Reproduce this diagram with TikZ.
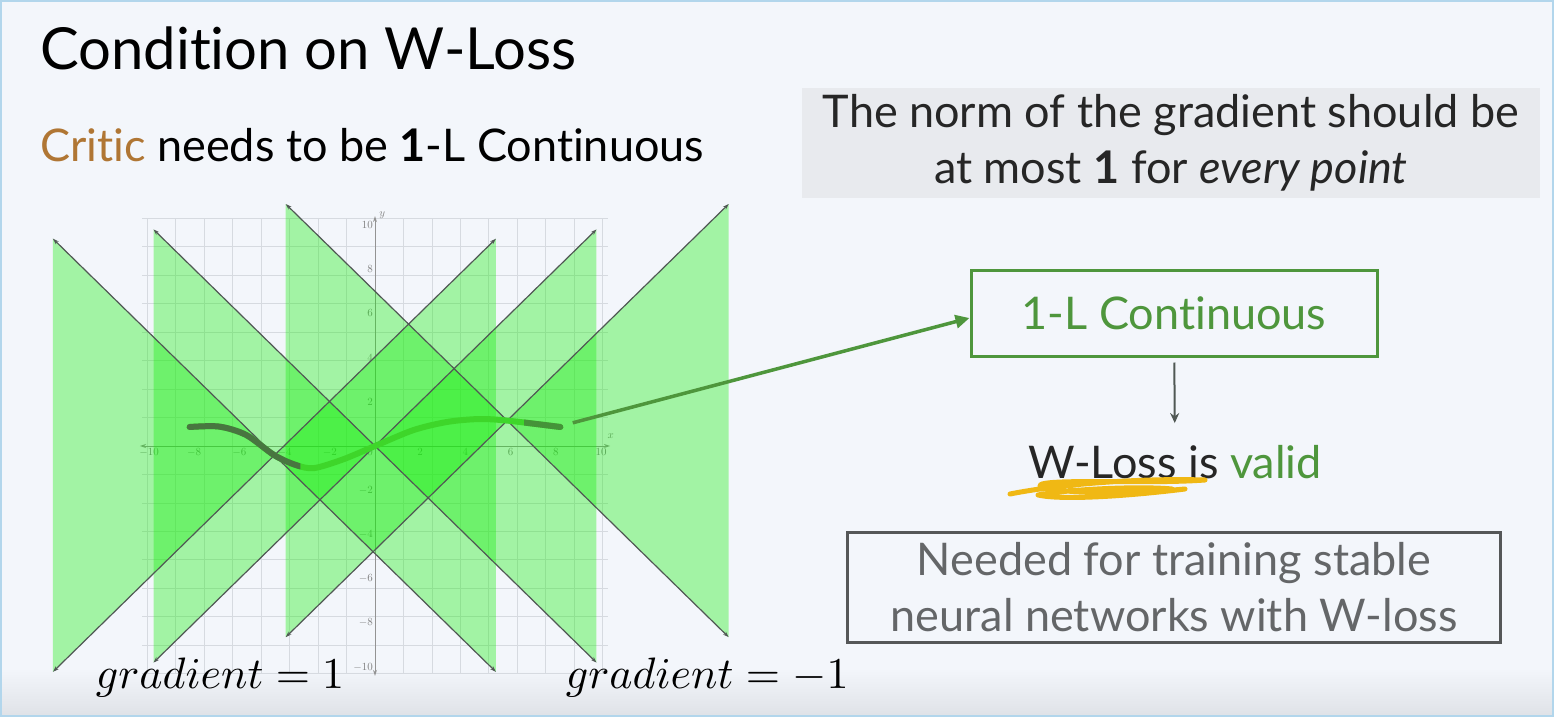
\documentclass[tikz,border=0pt]{standalone}
\usepackage[no-math]{fontspec}
\setmainfont{Lato}[Ligatures=NoCommon]
\usetikzlibrary{arrows.meta,positioning}

\definecolor{slidebg}{RGB}{243,246,251}
\definecolor{bandgray}{RGB}{224,227,232}
\definecolor{framecol}{RGB}{178,214,236}
\definecolor{boxgray}{RGB}{232,234,238}
\definecolor{critic}{RGB}{176,118,52}
\definecolor{lgreen}{RGB}{78,150,60}
\definecolor{textgray}{RGB}{100,102,104}
\definecolor{wedgegreen}{RGB}{20,240,10}
\definecolor{coneline}{RGB}{80,88,84}
\definecolor{gridcol}{RGB}{214,218,224}
\definecolor{curvebright}{RGB}{62,214,42}
\definecolor{curvedark}{RGB}{72,118,64}
\definecolor{pen}{RGB}{240,184,20}

\begin{document}
\begin{tikzpicture}[x=1pt,y=-1pt,
  txt/.style={inner sep=0pt,font=\fontsize{45}{56}\selectfont},
  wedge/.style={fill=wedgegreen,fill opacity=.36},
  cone/.style={draw=coneline,line width=1.2pt,{Stealth[length=6pt,width=4pt]}-{Stealth[length=6pt,width=4pt]}},
  gridline/.style={draw=gridcol,line width=.8pt},
  axis/.style={draw=gray!85,line width=1pt,{Stealth[length=6pt,width=4pt]}-{Stealth[length=6pt,width=4pt]}},
  ticklbl/.style={inner sep=2pt,text=gray,font=\fontsize{11}{12}\selectfont},
  curve/.style={line width=6pt,line cap=round},
  linkarrow/.style={draw=lgreen,line width=3.5pt,-{Triangle[length=14pt,width=13pt]}},
  darr/.style={draw=coneline,line width=2pt,-{Stealth[length=10pt,width=9pt]}},
  gradlbl/.style={inner sep=0pt,anchor=base west,scale=4.4}]
\useasboundingbox (0,0) rectangle (1554,717);
\fill[slidebg] (0,0) rectangle (1554,717);
\shade[top color=slidebg,bottom color=bandgray] (0,668) rectangle (1554,714);
\draw[framecol,line width=2pt] (1,1) rectangle (1553,716);

% text on the left
\node[txt,anchor=base west,font=\fontsize{58}{62}\selectfont] (title) at (40,70) {Condition on W-Loss};
\node[txt,anchor=base west] (critic) at (40,161) {\textcolor{critic}{Critic} needs to be \textbf{1}-L Continuous};

% the plot
\begin{scope}[shift={(375,446)},x=22.6pt,y=22.1pt]
\draw[gridline] (-10.3,-10.3) grid (10.3,10.3);
\draw[axis] (-10.4,0) -- (10.4,0);
\draw[axis] (0,-10.4) -- (0,10.4);
\foreach \t in {-10,-8,-6,-4,-2,2,4,6,8,10} {
  \node[ticklbl,below] at (\t,0) {$\t$};
  \node[ticklbl,left] at (0,\t) {$\t$};
}
\node[ticklbl,below left] at (0,0) {$0$};
\node[ticklbl,right] at (10.2,0.45) {$x$};
\node[ticklbl,right] at (0.1,10.45) {$y$};
% cones of slope 1
\foreach \ax/\ay in {-4.45/-0.42, 0/0, 5.85/1.15} {
  \fill[wedge] (\ax,\ay) -- (\ax-9.8,\ay+9.8) -- (\ax-9.8,\ay-9.8) -- cycle;
  \fill[wedge] (\ax,\ay) -- (\ax+9.8,\ay+9.8) -- (\ax+9.8,\ay-9.8) -- cycle;
}
\foreach \ax/\ay in {-4.45/-0.42, 0/0, 5.85/1.15} {
  \draw[cone] (\ax-9.8,\ay+9.8) -- (\ax+9.8,\ay-9.8);
  \draw[cone] (\ax-9.8,\ay-9.8) -- (\ax+9.8,\ay+9.8);
}
% the critic
\draw[curve,curvebright] plot[smooth] coordinates {(-8.2,.86) (-6.9,.88) (-5.7,.5) (-4.45,-.42) (-3.5,-.86) (-2.7,-1) (-1.4,-.6) (0,0) (1.7,.72) (3.2,1.09) (4.6,1.22) (5.85,1.15) (8.2,.86)};
\begin{scope}
\clip (-9,-3) rectangle (-3.3,3);
\draw[curve,curvedark] plot[smooth] coordinates {(-8.2,.86) (-6.9,.88) (-5.7,.5) (-4.45,-.42) (-3.5,-.86) (-2.7,-1) (-1.4,-.6) (0,0)};
\end{scope}
\begin{scope}
\clip (6.6,-3) rectangle (9,3);
\draw[curve,curvedark!70!curvebright] plot[smooth] coordinates {(3.2,1.09) (4.6,1.22) (5.85,1.15) (8.2,.86)};
\end{scope}
\coordinate (curveend) at (8.75,1.05);
\end{scope}

\node[gradlbl] (gradpos) at (95,688) {$gradient = 1$};
\node[gradlbl] (gradneg) at (565,688) {$gradient = -1$};

% boxes on the right
\node[txt,fill=boxgray,align=center,minimum width=738,minimum height=110,text=black!85] (norm) at (1171,143)
  {The norm of the gradient should be\\at most \textbf{1} for \textit{every point}};
\node[txt,draw=lgreen,line width=3pt,text=lgreen,minimum width=406,minimum height=86] (cont) at (1174,313) {1-L Continuous};
\node[txt,text=black!85] (valid) at (1175,462) {W-Loss is \textcolor{lgreen}{valid}};
\node[txt,draw=textgray!85!black,line width=3pt,text=textgray,align=center,minimum width=653,minimum height=110] (needed) at (1174,587)
  {Needed for training stable\\neural networks with W-loss};

\draw[darr,shorten <=5pt,shorten >=22pt] (cont) -- (valid);
\draw[linkarrow] (curveend) -- ([yshift=-5pt]cont.west);

% pen marks under W-Loss
\draw[pen,line width=5pt,line cap=round,line join=round] (1010,494) .. controls (1060,484) and (1140,478) .. (1205,480)
  .. controls (1150,484) and (1060,479) .. (1042,484)
  .. controls (1025,491) and (1110,496) .. (1185,489)
  .. controls (1120,497) and (1060,500) .. (1038,495)
  .. controls (1070,489) and (1140,486) .. (1172,489)
  .. controls (1140,494) and (1090,492) .. (1070,490);
\end{tikzpicture}
\end{document}
